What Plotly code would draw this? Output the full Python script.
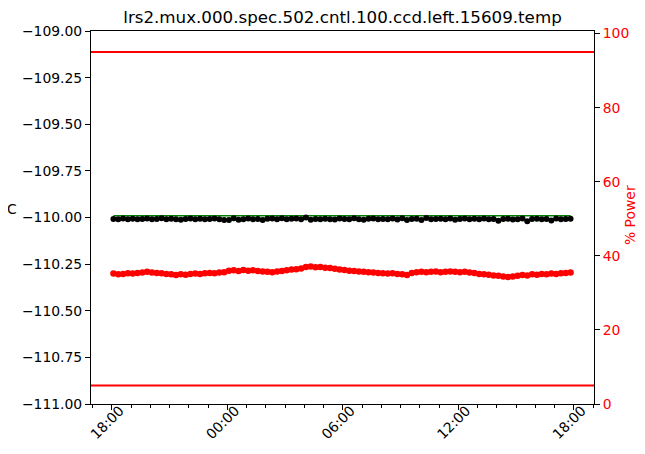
import plotly.graph_objects as go
from datetime import datetime, timedelta

TITLE = "lrs2.mux.000.spec.502.cntl.100.ccd.left.15609.temp"

TIMES = [
    "18:05", "18:20", "18:35", "18:50", "19:05", "19:20", "19:35", "19:50",
    "20:05", "20:20", "20:35", "20:50", "21:05", "21:20", "21:35", "21:50",
    "22:05", "22:20", "22:35", "22:50", "23:05", "23:20", "23:35", "23:50",
    "00:05", "00:20", "00:35", "00:50", "01:05", "01:20", "01:35", "01:50",
    "02:05", "02:20", "02:35", "02:50", "03:05", "03:20", "03:35", "03:50",
    "04:05", "04:20", "04:35", "04:50", "05:05", "05:20", "05:35", "05:50",
    "06:05", "06:20", "06:35", "06:50", "07:05", "07:20", "07:35", "07:50",
    "08:05", "08:20", "08:35", "08:50", "09:05", "09:20", "09:35", "09:50",
    "10:05", "10:20", "10:35", "10:50", "11:05", "11:20", "11:35", "11:50",
    "12:05", "12:20", "12:35", "12:50", "13:05", "13:20", "13:35", "13:50",
    "14:05", "14:20", "14:35", "14:50", "15:05", "15:20", "15:35", "15:50",
    "16:05", "16:20", "16:35", "16:50", "17:05", "17:20", "17:35", "17:50",
]

TEMPERATURE = [
    -110.008, -110.010, -110.006, -110.009, -110.007, -110.010, -110.008, -110.006,
    -110.009, -110.008, -110.004, -110.010, -110.007, -110.009, -110.012, -110.008,
    -110.006, -110.009, -110.007, -110.010, -110.008, -110.006, -110.010, -110.014,
    -110.014, -110.004, -110.012, -110.009, -110.006, -110.010, -110.008, -110.013,
    -110.007, -110.006, -110.009, -110.004, -110.010, -110.007, -110.006, -110.009,
    -110.000, -110.012, -110.008, -110.010, -110.007, -110.009, -110.011, -110.006,
    -110.008, -110.010, -110.004, -110.009, -110.012, -110.007, -110.006, -110.010,
    -110.008, -110.009, -110.006, -110.011, -110.004, -110.013, -110.008, -110.007,
    -110.014, -110.003, -110.009, -110.008, -110.007, -110.010, -110.006, -110.012,
    -110.008, -110.005, -110.010, -110.007, -110.009, -110.006, -110.010, -110.008,
    -110.018, -110.008, -110.007, -110.011, -110.009, -110.006, -110.020, -110.008,
    -110.007, -110.010, -110.008, -110.016, -110.006, -110.009, -110.008, -110.007,
]

POWER = [
    35.2, 35.0, 35.1, 35.3, 35.2, 35.4, 35.5, 35.7,
    35.5, 35.4, 35.3, 35.1, 35.0, 34.8, 35.0, 34.9,
    35.1, 35.2, 35.1, 35.3, 35.4, 35.3, 35.5, 35.6,
    36.0, 36.1, 35.9, 36.2, 36.0, 36.1, 35.9, 35.8,
    35.7, 35.6, 35.8, 35.9, 36.1, 36.3, 36.4, 36.6,
    37.0, 37.1, 36.9, 37.0, 36.8, 36.7, 36.5, 36.3,
    36.2, 36.0, 35.9, 35.8, 35.7, 35.6, 35.5, 35.4,
    35.3, 35.2, 35.3, 35.1, 35.0, 34.8, 35.4, 35.6,
    35.7, 35.6, 35.7, 35.8, 35.6, 35.7, 35.8, 35.7,
    35.6, 35.7, 35.5, 35.4, 35.1, 35.0, 34.9, 34.7,
    34.6, 34.4, 34.3, 34.4, 34.6, 34.8, 34.7, 35.0,
    34.9, 35.1, 35.0, 35.2, 35.1, 35.3, 35.4, 35.5,
]

SETPOINT = -109.99
POWER_LIMITS = [5, 95]
X_TICK_LABELS = ["18:00", "00:00", "06:00", "12:00", "18:00"]

DAY1 = datetime(2019, 6, 10)
DAY2 = DAY1 + timedelta(days=1)


def to_dt(hhmm, day_hint=None):
    h, m = map(int, hhmm.split(":"))
    day = DAY1 if h >= 18 and day_hint != 2 else DAY2
    return day + timedelta(hours=h, minutes=m)


x = [to_dt(t) for t in TIMES]
tick_vals = [to_dt(X_TICK_LABELS[0])] + [to_dt(t, 2) for t in X_TICK_LABELS[1:]]
x_range = [DAY1 + timedelta(hours=16, minutes=55), DAY2 + timedelta(hours=19, minutes=3)]

FONT = "DejaVu Sans"
FS = 13.9
W, H = 637, 446
L, T, PW, PH = 83, 23, 503, 373

fig = go.Figure()

fig.add_trace(go.Scatter(x=x, y=[SETPOINT] * len(x), mode="lines",
                         line=dict(color="green", width=1.5), yaxis="y", showlegend=False))
fig.add_trace(go.Scatter(x=x, y=TEMPERATURE, mode="markers",
                         marker=dict(color="black", size=6), yaxis="y", showlegend=False))
fig.add_trace(go.Scatter(x=x, y=POWER, mode="markers",
                         marker=dict(color="red", size=6.5), yaxis="y2", showlegend=False))

for lim in POWER_LIMITS:
    fig.add_shape(type="line", xref="paper", x0=0, x1=1, yref="y2", y0=lim, y1=lim,
                  line=dict(color="red", width=2))

fig.update_layout(
    width=W, height=H,
    margin=dict(l=L, r=W - L - PW, t=T, b=H - T - PH, autoexpand=False),
    paper_bgcolor="white", plot_bgcolor="white",
    font=dict(family=FONT, size=FS, color="black"),
    title=dict(text=TITLE, x=0.5, xref="paper", xanchor="center",
               y=1 - 9 / H, yref="container", yanchor="middle",
               font=dict(family=FONT, size=16.7, color="black")),
    xaxis=dict(range=x_range, type="date", tickvals=tick_vals, ticktext=X_TICK_LABELS,
               tickangle=-45, ticks="outside", ticklen=5, tickcolor="black",
               ticklabelstandoff=-13, ticklabelshift=8,
               showline=True, linecolor="black", linewidth=1, mirror=True,
               showgrid=False, zeroline=False, automargin=False,
               tickfont=dict(size=FS),
               minor=dict(dtick=3600000, ticks="outside", ticklen=3, tickcolor="black",
                          showgrid=False)),
    yaxis=dict(range=[-111, -109], dtick=0.25, tickformat=".2f", ticks="outside",
               ticklen=5, tickcolor="black", showline=True, linecolor="black",
               linewidth=1, showgrid=False, zeroline=False, automargin=False,
               tickfont=dict(size=FS)),
    yaxis2=dict(range=[0, 100.7], tickvals=[0, 20, 40, 60, 80, 100], overlaying="y",
                side="right", ticks="outside", ticklen=5, tickcolor="black",
                tickfont=dict(color="red", size=FS), showline=True, linecolor="black",
                linewidth=1, showgrid=False, zeroline=False, automargin=False),
)

fig.add_annotation(text="C", xref="paper", yref="paper", x=(4 - L) / PW,
                   y=(T + PH - 201) / PH, showarrow=False, xanchor="center",
                   font=dict(family=FONT, size=FS, color="black"))
fig.add_annotation(text="% Power", xref="paper", yref="paper", x=(632 - L) / PW,
                   y=(T + PH - 207) / PH, showarrow=False, textangle=-90,
                   xanchor="right", yanchor="middle",
                   font=dict(family=FONT, size=FS, color="red"))

fig.write_html("out.html")
